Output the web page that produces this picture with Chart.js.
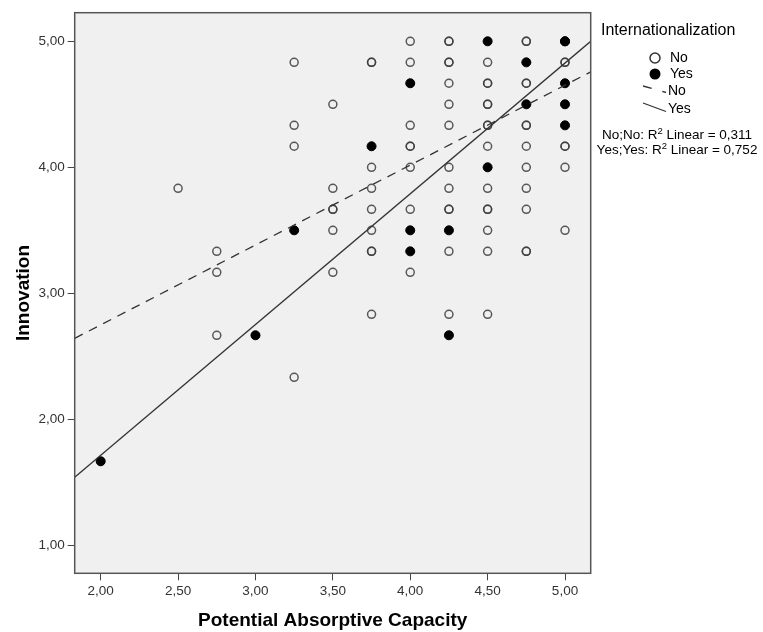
<!DOCTYPE html>
<html>
<head>
<meta charset="utf-8">
<script src="https://cdn.jsdelivr.net/npm/chart.js@4.4.0/dist/chart.umd.min.js"></script>
<style>
	html, body { margin: 0; padding: 0; background: #ffffff; }
	#wrap { width: 763px; height: 632px; position: relative; }
</style>
</head>
<body>
<div id="wrap"><canvas id="chart-1" width="763" height="632"></canvas></div>
<script>

// Potential Absorptive Capacity (x) vs Innovation (y), split by Internationalization
var noX = [2.5,
	2.75, 2.75, 2.75,
	3.25, 3.25, 3.25, 3.25,
	3.5, 3.5, 3.5, 3.5, 3.5, 3.5,
	3.75, 3.75, 3.75, 3.75, 3.75, 3.75, 3.75, 3.75, 3.75,
	4.0, 4.0, 4.0, 4.0, 4.0, 4.0, 4.0, 4.0,
	4.25, 4.25, 4.25, 4.25, 4.25, 4.25, 4.25, 4.25, 4.25, 4.25, 4.25, 4.25, 4.25,
	4.5, 4.5, 4.5, 4.5, 4.5, 4.5, 4.5, 4.5, 4.5, 4.5, 4.5, 4.5, 4.5, 4.5,
	4.75, 4.75, 4.75, 4.75, 4.75, 4.75, 4.75, 4.75, 4.75, 4.75, 4.75, 4.75,
	5.0, 5.0, 5.0, 5.0, 5.0, 5.0];
var noY = [3.833,
	3.333, 3.167, 2.667,
	4.833, 4.333, 4.167, 2.333,
	4.5, 3.833, 3.667, 3.667, 3.5, 3.167,
	4.833, 4.833, 4.0, 3.833, 3.667, 3.5, 3.333, 3.333, 2.833,
	5.0, 4.833, 4.333, 4.167, 4.167, 4.0, 3.667, 3.167,
	5.0, 5.0, 4.833, 4.833, 4.667, 4.5, 4.333, 4.0, 3.833, 3.667, 3.667, 3.333, 2.833,
	4.833, 4.667, 4.667, 4.5, 4.5, 4.333, 4.333, 4.167, 3.833, 3.667, 3.667, 3.5, 3.333, 2.833,
	5.0, 5.0, 4.667, 4.667, 4.333, 4.333, 4.167, 4.0, 3.833, 3.667, 3.333, 3.333,
	4.833, 4.833, 4.167, 4.167, 4.0, 3.5];

var yesX = [2.0, 3.0, 3.25, 3.75, 4.0, 4.0, 4.0, 4.25, 4.25, 4.5, 4.5, 4.75, 4.75, 5.0, 5.0, 5.0, 5.0, 5.0];
var yesY = [1.667, 2.667, 3.5, 4.167, 4.667, 3.5, 3.333, 3.5, 2.667, 5.0, 4.0, 4.833, 4.5, 5.0, 5.0, 4.667, 4.5, 4.333];

// fit line end points, read at the frame edges
var noFitX = [1.832, 5.166];
var noFitY = [2.643, 4.757];
var yesFitX = [1.832, 5.166];
var yesFitY = [1.54, 5.0];

var xTicks = [2.0, 2.5, 3.0, 3.5, 4.0, 4.5, 5.0];
var yTicks = [1.0, 2.0, 3.0, 4.0, 5.0];

var xMin = 1.832, xMax = 5.166;
var yMin = 0.778, yMax = 5.227;

var fontFam = "'Liberation Sans', Arial, sans-serif";

function pts(xs, ys) {
	var out = [];
	for (var i = 0; i < xs.length; i++) {
		out.push({x: xs[i], y: ys[i]});
	}
	return out;
}

function fmt(v) {
	return v.toFixed(2).replace(".", ",");
}

var frameBg = {
	id: 'frameBg',
	beforeDatasetsDraw: function(chart) {
		var a = chart.chartArea, ctx = chart.ctx;
		ctx.save();
		ctx.fillStyle = "#f0f0f0";
		ctx.fillRect(a.left, a.top, a.right - a.left, a.bottom - a.top);
		ctx.restore();
	},
	afterDraw: function(chart) {
		var a = chart.chartArea, ctx = chart.ctx;
		ctx.save();
		ctx.strokeStyle = "#555555";
		ctx.lineWidth = 1.5;
		ctx.strokeRect(a.left, a.top, a.right - a.left, a.bottom - a.top);
		ctx.restore();
	}
};

// legend on the right, SPSS style
var sideLegend = {
	id: 'sideLegend',
	afterDraw: function(chart) {
		var ctx = chart.ctx;
		ctx.save();
		ctx.fillStyle = "#000";
		ctx.textBaseline = "middle";
		ctx.textAlign = "left";
		ctx.font = "16px " + fontFam;
		ctx.fillText("Internationalization", 601, 31);

		ctx.font = "14px " + fontFam;
		// open marker
		ctx.beginPath();
		ctx.arc(655, 58, 5, 0, Math.PI * 2);
		ctx.fillStyle = "#ffffff";
		ctx.fill();
		ctx.lineWidth = 1.5;
		ctx.strokeStyle = "#333";
		ctx.stroke();
		ctx.fillStyle = "#000";
		ctx.fillText("No", 670, 58);
		// filled marker
		ctx.beginPath();
		ctx.arc(655, 74, 5.5, 0, Math.PI * 2);
		ctx.fill();
		ctx.fillText("Yes", 670, 74);

		// dashed
		ctx.strokeStyle = "#333";
		ctx.lineWidth = 1.3;
		ctx.setLineDash([9, 11]);
		ctx.beginPath();
		ctx.moveTo(643, 86);
		ctx.lineTo(666, 92.5);
		ctx.stroke();
		ctx.setLineDash([]);
		ctx.fillText("No", 668, 91);
		// solid
		ctx.beginPath();
		ctx.moveTo(643, 103);
		ctx.lineTo(666, 111.5);
		ctx.stroke();
		ctx.fillText("Yes", 668, 109);

		// R2 notes
		var lines = [["No;No: R", " Linear = 0,311", 135], ["Yes;Yes: R", " Linear = 0,752", 150]];
		for (var i = 0; i < lines.length; i++) {
			var big = "13.5px " + fontFam, small = "9.5px " + fontFam;
			ctx.font = big;
			var w1 = ctx.measureText(lines[i][0]).width;
			var w3 = ctx.measureText(lines[i][1]).width;
			ctx.font = small;
			var w2 = ctx.measureText("2").width;
			var x0 = 677 - (w1 + w2 + w3) / 2;
			var y = lines[i][2];
			ctx.font = big;
			ctx.fillText(lines[i][0], x0, y);
			ctx.font = small;
			ctx.fillText("2", x0 + w1, y - 4);
			ctx.font = big;
			ctx.fillText(lines[i][1], x0 + w1 + w2, y);
		}
		ctx.restore();
	}
};

var data1 = {
	datasets: [{
		label: "Yes fit",
		data: pts(yesFitX, yesFitY),
		showLine: true,
		borderColor: "#333333",
		borderWidth: 1.3,
		pointRadius: 0,
		fill: false
	}, {
		label: "No fit",
		data: pts(noFitX, noFitY),
		showLine: true,
		borderColor: "#333333",
		borderWidth: 1.3,
		borderDash: [9, 7],
		pointRadius: 0,
		fill: false
	}, {
		label: "Yes",
		data: pts(yesX, yesY),
		pointStyle: 'circle',
		pointRadius: 4.5,
		pointBorderWidth: 1,
		backgroundColor: "#000000",
		borderColor: "#000000"
	}, {
		label: "No",
		data: pts(noX, noY),
		pointStyle: 'circle',
		pointRadius: 4,
		pointBorderWidth: 1.5,
		backgroundColor: "rgba(240,240,240,0)",
		borderColor: "rgba(60,60,60,0.85)"
	}]
};

var options1 = {
	responsive: false,
	animation: false,
	devicePixelRatio: 1,
	layout: {
		padding: {left: 0, top: 12.7, right: 172.3, bottom: 0}
	},
	plugins: {
		legend: { display: false },
		tooltip: { enabled: false }
	},
	scales: {
		x: {
			type: 'linear',
			min: xMin,
			max: xMax,
			afterBuildTicks: function(scale) {
				scale.ticks = xTicks.map(function(v) { return {value: v}; });
			},
			afterFit: function(scale) {
				scale.height = 58.7;
			},
			grid: {
				drawOnChartArea: false,
				drawTicks: true,
				tickLength: 7,
				color: "#444444"
			},
			border: { display: false },
			ticks: {
				autoSkip: false,
				maxRotation: 0,
				padding: 3,
				color: "#333333",
				font: { family: fontFam, size: 13.5 },
				callback: function(v) { return fmt(v); }
			},
			title: {
				display: true,
				text: 'Potential Absorptive Capacity',
				color: "#000000",
				font: { family: fontFam, size: 19, weight: 'bold' },
				padding: { top: 0, bottom: 0 }
			}
		},
		y: {
			type: 'linear',
			min: yMin,
			max: yMax,
			afterBuildTicks: function(scale) {
				scale.ticks = yTicks.map(function(v) { return {value: v}; });
			},
			afterFit: function(scale) {
				scale.width = 74.7;
			},
			grid: {
				drawOnChartArea: false,
				drawTicks: true,
				tickLength: 7,
				color: "#444444"
			},
			border: { display: false },
			ticks: {
				autoSkip: false,
				padding: 3,
				color: "#333333",
				font: { family: fontFam, size: 13.5 },
				callback: function(v) { return fmt(v); }
			},
			title: {
				display: true,
				text: 'Innovation',
				color: "#000000",
				font: { family: fontFam, size: 19, weight: 'bold' },
				padding: { top: 12, bottom: 0 }
			}
		}
	}
};

var graph = new Chart('chart-1', {
	type: 'scatter',
	data: data1,
	options: options1,
	plugins: [frameBg, sideLegend]
});
</script>
</body>
</html>
